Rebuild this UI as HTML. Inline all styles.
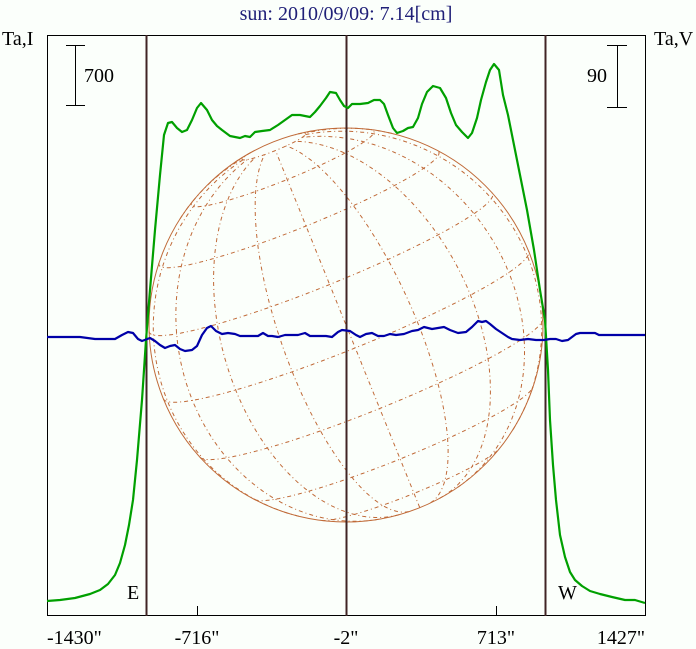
<!DOCTYPE html>
<html><head><meta charset="utf-8"><style>
html,body{margin:0;padding:0;background:#fbfffb;}
svg{display:block;}
text{font-family:"Liberation Serif",serif;font-size:20px;fill:#000;}
</style></head><body>
<svg id="s" width="696" height="649" viewBox="0 0 696 649" xmlns="http://www.w3.org/2000/svg">
<rect width="696" height="649" fill="#fbfffb"/>
<text x="346" y="20" text-anchor="middle" fill="#202078" style="fill:#202078">sun: 2010/09/09: 7.14[cm]</text>
<text x="2" y="45">Ta,I</text>
<text x="654" y="45">Ta,V</text>
<g id="globe" fill="none" stroke="#c06a38" stroke-width="1"></g>
<circle cx="346" cy="325" r="197" fill="none" stroke="#c06a38" stroke-width="1"/>
<rect x="47.5" y="35.5" width="598" height="580" fill="none" stroke="#000" stroke-width="1"/>
<line x1="146.5" y1="35" x2="146.5" y2="616" stroke="#402424" stroke-width="2"/>
<line x1="346.5" y1="35" x2="346.5" y2="616" stroke="#402424" stroke-width="2"/>
<line x1="545.5" y1="35" x2="545.5" y2="616" stroke="#402424" stroke-width="2"/>
<line x1="197.5" y1="606" x2="197.5" y2="615" stroke="#000"/>
<line x1="496.5" y1="606" x2="496.5" y2="615" stroke="#000"/>
<g stroke="#000" stroke-width="1">
<line x1="75.5" y1="45" x2="75.5" y2="105"/><line x1="66" y1="45.5" x2="85" y2="45.5"/><line x1="66" y1="105.5" x2="85" y2="105.5"/>
<line x1="617.5" y1="45" x2="617.5" y2="107"/><line x1="607" y1="45.5" x2="627" y2="45.5"/><line x1="607" y1="107.5" x2="627" y2="107.5"/>
</g>
<text x="84" y="82">700</text>
<text x="607" y="82" text-anchor="end">90</text>
<text x="127" y="599">E</text>
<text x="558" y="599">W</text>
<text x="47" y="644">-1430"</text>
<text x="197" y="644" text-anchor="middle">-716"</text>
<text x="346" y="644" text-anchor="middle">-2"</text>
<text x="496" y="644" text-anchor="middle">713"</text>
<text x="645" y="644" text-anchor="end">1427"</text>
<polyline fill="none" stroke="#00a000" stroke-width="2.2" stroke-linejoin="round" points="47,601 60,600 75,598 90,594 100,590 108,584 115,575 120,563 125,545 129,525 133,500 137,460 142,400 146,340 150,290 155,230 160,175 164,135 168,123 172,122 177,128 182,132 187,130 192,120 197,108 201,103 207,110 212,120 217,126 222,130 230,136 240,138 245,136 250,137 255,132 262,131 270,130 278,125 285,120 292,115 300,115 305,116 310,117 315,112 320,106 326,98 330,92 336,93 340,100 344,106 348,108 352,104 360,104 368,103 374,100 380,100 384,104 388,115 393,128 397,133 403,131 408,128 413,127 418,118 422,104 427,92 433,86 440,88 446,98 451,113 456,125 462,132 468,138 472,133 477,118 481,100 486,82 490,70 494,64 499,70 503,95 508,115 514,145 520,175 527,210 534,250 540,290 545,320 548,370 550,420 553,465 556,500 560,535 565,557 570,572 575,580 582,586 590,591 600,594 612,597 625,600 635,600 645,603"/>
<polyline fill="none" stroke="#0000a8" stroke-width="2.2" stroke-linejoin="round" points="47,337 80,337 95,339 115,339 122,335 128,332 133,333 138,339 142,341 150,338 155,341 160,345 165,348 170,346 175,345 180,349 185,351 192,350 197,346 202,335 207,328 211,326 216,331 222,334 228,333 235,334 240,336 250,336 258,336 263,333 268,336 272,336 278,337 285,335 292,335 298,335 305,333 310,336 318,336 326,336 332,337 338,332 342,330 350,331 356,335 360,337 366,334 372,333 378,336 384,336 390,334 396,335 404,334 412,331 418,330 424,327 432,329 438,328 444,327 450,330 458,333 466,332 472,327 478,321 482,322 486,321 490,324 496,329 502,333 508,337 512,339 520,340 528,339 536,340 544,340 550,339 556,339 562,341 568,340 572,337 576,334 580,333 595,333 599,335 645,335"/>
</svg>
<script>
(function(){
var P=22*Math.PI/180,B=7.2*Math.PI/180,R=197,cx=346,cy=325;
var n=[-Math.sin(P)*Math.cos(B),Math.cos(P)*Math.cos(B),Math.sin(B)];
var zn=n[2];var e1=[-zn*n[0],-zn*n[1],1-zn*n[2]];
var l=Math.hypot(e1[0],e1[1],e1[2]);e1=e1.map(function(v){return v/l;});
var e2=[n[1]*e1[2]-n[2]*e1[1],n[2]*e1[0]-n[0]*e1[2],n[0]*e1[1]-n[1]*e1[0]];
function pt(la,lo){var c=Math.cos(la),s=Math.sin(la);
var a=c*Math.cos(lo),b=c*Math.sin(lo);
return [a*e1[0]+b*e2[0]+s*n[0],a*e1[1]+b*e2[1]+s*n[1],a*e1[2]+b*e2[2]+s*n[2]];}
var g=document.getElementById('globe'),d='',D=Math.PI/180;
function line(f,t0,t1){var on=false;for(var t=t0;t<=t1+1e-9;t+=0.5){var p=f(t);
if(p[2]>=0){d+=(on?'L':'M')+(cx+R*p[0]).toFixed(1)+' '+(cy-R*p[1]).toFixed(1);on=true;}else on=false;}}
for(var la=-60;la<=80;la+=20){(function(la){line(function(t){return pt(la*D,t*D);},-180,180);})(la);}
for(var lo=-180;lo<180;lo+=20){(function(lo){line(function(t){return pt(t*D,lo*D);},-80,80);})(lo);}
var p=document.createElementNS('http://www.w3.org/2000/svg','path');
p.setAttribute('d',d);p.setAttribute('stroke-dasharray','4,3,1,3');g.appendChild(p);
})();
</script>
</body></html>
